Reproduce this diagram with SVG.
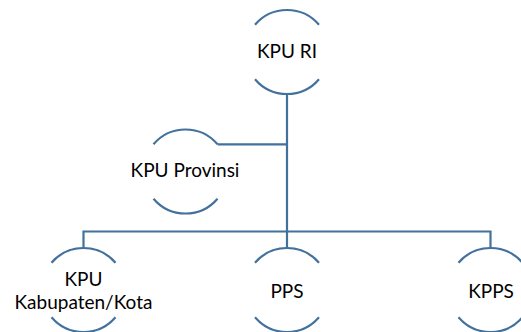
<svg xmlns="http://www.w3.org/2000/svg" width="521" height="332" viewBox="0 0 521 332">
<style>
.arc{fill:none;stroke:#41719C;stroke-width:2.2}
.con{fill:none;stroke:#41719C;stroke-width:2.2}
.t{font-family:Lato,"Open Sans","Liberation Sans",sans-serif;font-size:19px;fill:#000;text-anchor:middle}
</style>
<rect width="521" height="332" fill="#fff"/>
<g id="connectors">
<path class="con" d="M287 94 V248"/>
<path class="con" d="M217.5 144.3 H287"/>
<path class="con" d="M83.5 248 V231.5 H490.5 V248"/>
</g>
<g id="kpu-ri">
<path class="arc" d="M255 24.8 A42 42 0 0 1 319 24.8"/>
<path class="arc" d="M255 79.2 A42 42 0 0 0 319 79.2"/>
<text class="t" x="287" y="58">KPU RI</text>
</g>
<g id="kpu-provinsi">
<path class="arc" d="M153.5 144.3 A42 42 0 0 1 217.5 144.3"/>
<path class="arc" d="M153.5 198.7 A42 42 0 0 0 217.5 198.7"/>
<text class="t" x="185" y="177">KPU Provinsi</text>
</g>
<g id="kpu-kabupaten">
<path class="arc" d="M51.5 262.8 A42 42 0 0 1 115.5 262.8"/>
<path class="arc" d="M51.5 317.2 A42 42 0 0 0 115.5 317.2"/>
<text class="t" x="83.5" y="286">KPU</text>
<text class="t" x="83.5" y="309">Kabupaten/Kota</text>
</g>
<g id="pps">
<path class="arc" d="M255 262.8 A42 42 0 0 1 319 262.8"/>
<path class="arc" d="M255 317.2 A42 42 0 0 0 319 317.2"/>
<text class="t" x="287" y="298">PPS</text>
</g>
<g id="kpps">
<path class="arc" d="M458.5 262.8 A42 42 0 0 1 522.5 262.8"/>
<path class="arc" d="M458.5 317.2 A42 42 0 0 0 522.5 317.2"/>
<text class="t" x="491" y="298">KPPS</text>
</g>
</svg>
